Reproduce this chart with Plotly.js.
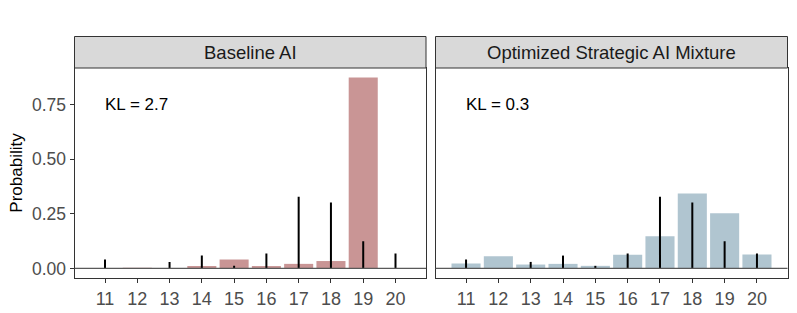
<!DOCTYPE html>
<html>
<head>
<meta charset="utf-8">
<script src="https://cdn.plot.ly/plotly-3.0.1.min.js"></script>
<style>html,body{margin:0;padding:0;background:#fff;}#chart{width:797px;height:313px;}</style>
</head>
<body>
<div id="chart"></div>
<script>
// Data
const categories = [11, 12, 13, 14, 15, 16, 17, 18, 19, 20];
const baselineProb = [0.000, 0.003, 0.001, 0.011, 0.041, 0.011, 0.021, 0.034, 0.875, 0.000];
const optimizedProb = [0.023, 0.056, 0.018, 0.021, 0.012, 0.063, 0.148, 0.343, 0.253, 0.064];
const targetProb = [0.041, 0.000, 0.030, 0.059, 0.012, 0.069, 0.329, 0.302, 0.125, 0.069];
const panelTitles = ["Baseline AI", "Optimized Strategic AI Mixture"];
const klLabels = ["KL = 2.7", "KL = 0.3"];
const yTicks = [0, 0.25, 0.5, 0.75];

// segment coordinates built from the target values
const segX = [], segY = [];
categories.forEach((c, i) => { segX.push(c, c, null); segY.push(0, targetProb[i], null); });

const W = 797, H = 313;
const px = v => v / W, py = v => 1 - v / H;
const p1 = [74.5, 426], p2 = [435.5, 787.5];
const plotTop = 68, plotBot = 278, stripTop = 36.5;

const barColors = ["#C99595", "#B0C5D0"];

const traces = [
  {type: 'bar', x: categories, y: baselineProb, width: 0.9, marker: {color: barColors[0]}, xaxis: 'x', yaxis: 'y', hoverinfo: 'x+y'},
  {type: 'bar', x: categories, y: optimizedProb, width: 0.9, marker: {color: barColors[1]}, xaxis: 'x2', yaxis: 'y2', hoverinfo: 'x+y'},
  {type: 'scatter', mode: 'lines', x: segX, y: segY, line: {color: '#000', width: 2}, xaxis: 'x', yaxis: 'y', connectgaps: false},
  {type: 'scatter', mode: 'lines', x: segX, y: segY, line: {color: '#000', width: 2}, xaxis: 'x2', yaxis: 'y2', connectgaps: false}
];

const font = 'Liberation Sans, Arial, Helvetica, sans-serif';
const xRange = [10.055, 20.945];
const yRange = [-0.04375, 0.91875];

const xCommon = {
  range: xRange, tickvals: categories, ticks: 'outside', ticklen: 4, tickcolor: '#333', tickwidth: 1,
  showgrid: false, zeroline: false, showline: true, mirror: true, linecolor: '#333', linewidth: 1,
  tickfont: {family: font, size: 18, color: '#4D4D4D'}, anchor: 'y'
};

const layout = {
  width: W, height: H, margin: {l: 0, r: 0, t: 0, b: 0},
  paper_bgcolor: '#fff', plot_bgcolor: '#fff', showlegend: false,
  font: {family: font},
  xaxis: Object.assign({}, xCommon, {domain: [px(p1[0]), px(p1[1])], anchor: 'y'}),
  xaxis2: Object.assign({}, xCommon, {domain: [px(p2[0]), px(p2[1])], anchor: 'y2'}),
  yaxis: {
    domain: [py(plotBot), py(plotTop)], range: yRange, tickvals: yTicks, tickformat: '.2f',
    ticks: 'outside', ticklen: 4, tickcolor: '#333', showgrid: false, zeroline: false,
    showline: true, mirror: true, linecolor: '#333', linewidth: 1,
    tickfont: {family: font, size: 17.5, color: '#4D4D4D'},
    title: {text: 'Probability', font: {family: font, size: 17, color: '#000'}, standoff: 4},
    anchor: 'x'
  },
  yaxis2: {
    domain: [py(plotBot), py(plotTop)], range: yRange, matches: 'y', showticklabels: false, ticks: '',
    showgrid: false, zeroline: false, showline: true, mirror: true, linecolor: '#333', linewidth: 1,
    anchor: 'x2'
  },
  shapes: [
    {type: 'rect', xref: 'paper', yref: 'paper', x0: px(p1[0]), x1: px(p1[1]), y0: py(plotTop), y1: py(stripTop), fillcolor: '#D9D9D9', line: {color: '#333', width: 1}},
    {type: 'rect', xref: 'paper', yref: 'paper', x0: px(p2[0]), x1: px(p2[1]), y0: py(plotTop), y1: py(stripTop), fillcolor: '#D9D9D9', line: {color: '#333', width: 1}},
    {type: 'line', xref: 'x domain', yref: 'y', x0: 0, x1: 1, y0: 0, y1: 0, line: {color: '#595959', width: 1.3}, layer: 'above'},
    {type: 'line', xref: 'x2 domain', yref: 'y2', x0: 0, x1: 1, y0: 0, y1: 0, line: {color: '#595959', width: 1.3}, layer: 'above'}
  ],
  annotations: [
    {xref: 'paper', yref: 'paper', x: px((p1[0] + p1[1]) / 2), y: py((plotTop + stripTop) / 2), text: panelTitles[0], showarrow: false, xanchor: 'center', yanchor: 'middle', font: {family: font, size: 18.5, color: '#1A1A1A'}},
    {xref: 'paper', yref: 'paper', x: px((p2[0] + p2[1]) / 2), y: py((plotTop + stripTop) / 2), text: panelTitles[1], showarrow: false, xanchor: 'center', yanchor: 'middle', font: {family: font, size: 18.5, color: '#1A1A1A'}},
    {xref: 'x', yref: 'y', x: 11, y: 0.75, text: klLabels[0], showarrow: false, xanchor: 'left', yanchor: 'middle', xshift: -2, font: {family: font, size: 17, color: '#000'}},
    {xref: 'x2', yref: 'y2', x: 11, y: 0.75, text: klLabels[1], showarrow: false, xanchor: 'left', yanchor: 'middle', xshift: -2, font: {family: font, size: 17, color: '#000'}}
  ]
};

Plotly.newPlot('chart', traces, layout, {staticPlot: true, displayModeBar: false});
</script>
</body>
</html>
